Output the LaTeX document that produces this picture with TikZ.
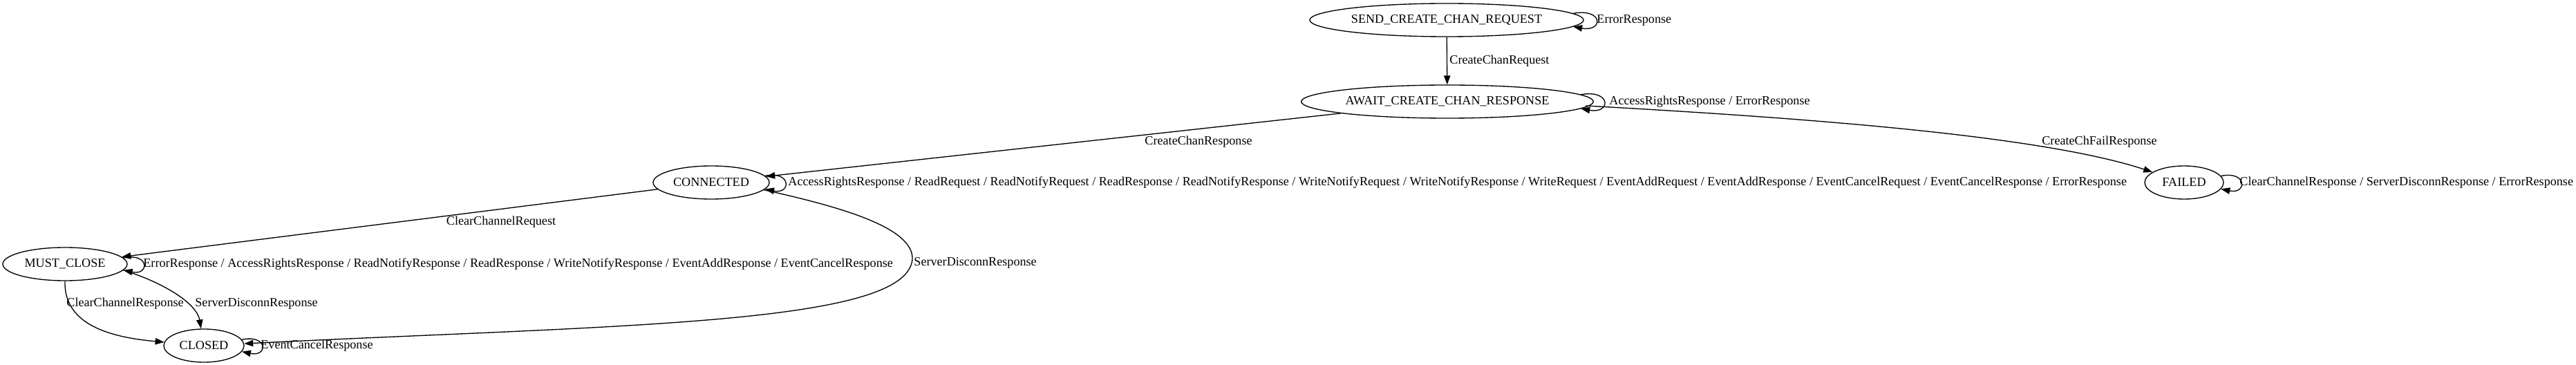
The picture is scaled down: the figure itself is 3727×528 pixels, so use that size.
\documentclass[tikz,border=0pt]{standalone}
\usepackage{fontspec}
\setmainfont{Liberation Serif}
\usetikzlibrary{arrows.meta,shapes.geometric,calc}

\begin{document}
\begin{tikzpicture}[x=0.5bp, y=-0.5bp,
    state/.style={draw, ellipse, line width=0.67bp, minimum height=24bp, inner sep=1bp,
        font=\fontsize{9.07bp}{11bp}\selectfont},
    trans/.style={draw, line width=0.67bp, -{Triangle[length=6.5bp,width=4.7bp]}},
    lbl/.style={inner sep=0pt, font=\fontsize{9.07bp}{11bp}\selectfont}]
    \useasboundingbox (0,0) rectangle (3727,528);
    % states
    \node[state, minimum width=193bp] (send)   at (2093,29)  {SEND\_CREATE\_CHAN\_REQUEST};
    \node[state, minimum width=209bp] (await)  at (2094,147) {AWAIT\_CREATE\_CHAN\_RESPONSE};
    \node[state, minimum width=84bp]  (conn)   at (1029,264) {CONNECTED};
    \node[state, minimum width=57bp]  (failed) at (3160,264) {FAILED};
    \node[state, minimum width=90bp]  (must)   at (94,382)   {MUST\_CLOSE};
    \node[state, minimum width=58bp]  (closed) at (295,500)  {CLOSED};
    % transitions
    \draw[trans] (send) -- (await);
    \draw[trans] (await) -- (conn);
    \draw[trans] ($(await.east)+(-6bp,-3bp)$) .. controls (2600,170) and (2950,195) .. (failed);
    \draw[trans] (conn) -- (must);
    \draw[trans] (conn.-8) .. controls (1220,300) and (1322,330) .. (1320,375)
        .. controls (1312,470) and (900,470) .. (closed);
    \draw[trans] (must.south) .. controls (92,470) and (160,488) .. (closed);
    \draw[trans] (must.-6) .. controls (240,410) and (285,440) .. (closed);
    % self loops
    \draw[trans] (send.3) .. controls +(22bp,4bp) and +(22bp,-4bp) .. (send.-3);
    \draw[trans] (await.3) .. controls +(22bp,4bp) and +(22bp,-4bp) .. (await.-3);
    \draw[trans] (conn.7) .. controls +(19bp,4bp) and +(19bp,-4bp) .. (conn.-7);
    \draw[trans] (failed.10) .. controls +(19bp,4bp) and +(19bp,-4bp) .. (failed.-10);
    \draw[trans] (must.6) .. controls +(19bp,4bp) and +(19bp,-4bp) .. (must.-6);
    \draw[trans] (closed.9) .. controls +(19bp,4bp) and +(19bp,-4bp) .. (closed.-9);
    % labels
    \node[lbl, anchor=west] (lsend) at (2310,29) {ErrorResponse};
    \node[lbl, anchor=west] (lreq) at (2097,88) {CreateChanRequest};
    \node[lbl, anchor=west] (lawait) at (2328,147) {AccessRightsResponse / ErrorResponse};
    \node[lbl, anchor=east] (lresp) at (1812,205) {CreateChanResponse};
    \node[lbl, anchor=east] (lfail) at (3121,205) {CreateChFailResponse};
    \node[lbl, anchor=west] (lconn) at (1140,264) {AccessRightsResponse / ReadRequest / ReadNotifyRequest / ReadResponse / ReadNotifyResponse / WriteNotifyRequest / WriteNotifyResponse / WriteRequest / EventAddRequest / EventAddResponse / EventCancelRequest / EventCancelResponse / ErrorResponse};
    \node[lbl, anchor=west] (lfailed) at (3240,264) {ClearChannelResponse / ServerDisconnResponse / ErrorResponse};
    \node[lbl] (lclear) at (725,321) {ClearChannelRequest};
    \node[lbl, anchor=west] (lmust) at (207,382) {ErrorResponse / AccessRightsResponse / ReadNotifyResponse / ReadResponse / WriteNotifyResponse / EventAddResponse / EventCancelResponse};
    \node[lbl, anchor=west] (ldisc) at (1322,380) {ServerDisconnResponse};
    \node[lbl, anchor=west] (lclrresp) at (96,439) {ClearChannelResponse};
    \node[lbl, anchor=west] (ldisc2) at (282,439) {ServerDisconnResponse};
    \node[lbl, anchor=west] (lclosed) at (377,500) {EventCancelResponse};
\end{tikzpicture}
\end{document}
